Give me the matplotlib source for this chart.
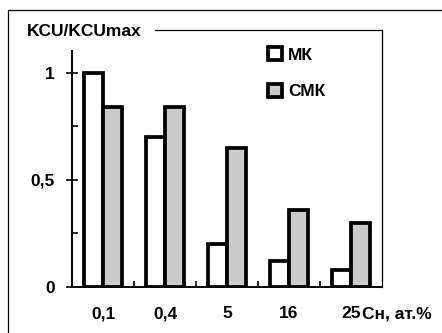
import numpy as np
import matplotlib
matplotlib.use('Agg')
import matplotlib.pyplot as plt
from matplotlib.patches import Rectangle

plt.rcParams['font.family'] = ['Liberation Sans', 'DejaVu Sans']
plt.rcParams['font.weight'] = 'bold'

categories = ['0,1', '0,4', '5', '16', '25']
mk = [1.0, 0.70, 0.20, 0.12, 0.08]
smk = [0.84, 0.84, 0.65, 0.36, 0.30]

fs = 12.5

fig = plt.figure(figsize=(4.42, 3.33), dpi=100)
ax = fig.add_axes([72/442, 1-287/333, 310/442, 257/333])

# outer frame
fig.patches.append(Rectangle((8/442, -0.1), 1.2, 1-10/333+0.1, transform=fig.transFigure,
                             fill=False, ec='black', lw=0.9))

x = np.arange(len(categories))
w = 0.3
ax.bar(x - w/2, mk, w, color='white', edgecolor='black', linewidth=2.7, label='МК')
ax.bar(x + w/2, smk, w, color='#cbcbcb', edgecolor='black', linewidth=2.7, label='СМК')

ax.set_xlim(-0.5, 4.5)
ax.set_ylim(0, 1.2)

ax.spines['left'].set_bounds(0, 1.1)
ax.spines['top'].set_bounds(0.84, 4.5)
ax.spines['left'].set_linewidth(1.4)
ax.spines['bottom'].set_linewidth(1.4)
ax.spines['top'].set_linewidth(0.9)
ax.spines['right'].set_linewidth(0.9)

ax.set_yticks([0, 0.5, 1])
ax.set_yticklabels(['0', '0,5', '1'], fontsize=fs, fontweight='bold')
ax.set_yticks([0.25, 0.75], minor=True)
ax.tick_params(axis='y', which='major', direction='inout', length=9, width=1.2, pad=8)
ax.tick_params(axis='y', which='minor', direction='in', length=4, width=1.2)

ax.set_xticks(x)
ax.set_xticklabels(categories, fontsize=fs, fontweight='bold')
ax.set_xticks([0.5, 1.5, 2.5, 3.5], minor=True)
ax.tick_params(axis='x', which='major', length=0, pad=14)
ax.tick_params(axis='x', which='minor', direction='in', length=4, width=1.2)

fig.text(362/442, 1-(287+14*100/72)/333, 'Cн, ат.%', fontsize=fs, fontweight='bold',
         va='top', ha='left')
fig.text(27/442, 1-32/333, 'KCU/KCUmax', fontsize=fs, fontweight='bold', va='center', ha='left')

leg = ax.legend(loc='upper left', bbox_to_anchor=(268/442, 1-47/333), bbox_transform=fig.transFigure,
                frameon=False, fontsize=fs, handlelength=0.8, handleheight=0.8,
                handletextpad=0.35, labelspacing=1.2, borderpad=0, borderaxespad=0)
for t in leg.get_texts():
    t.set_fontweight('bold')

fig.savefig('out.png', dpi=100)
